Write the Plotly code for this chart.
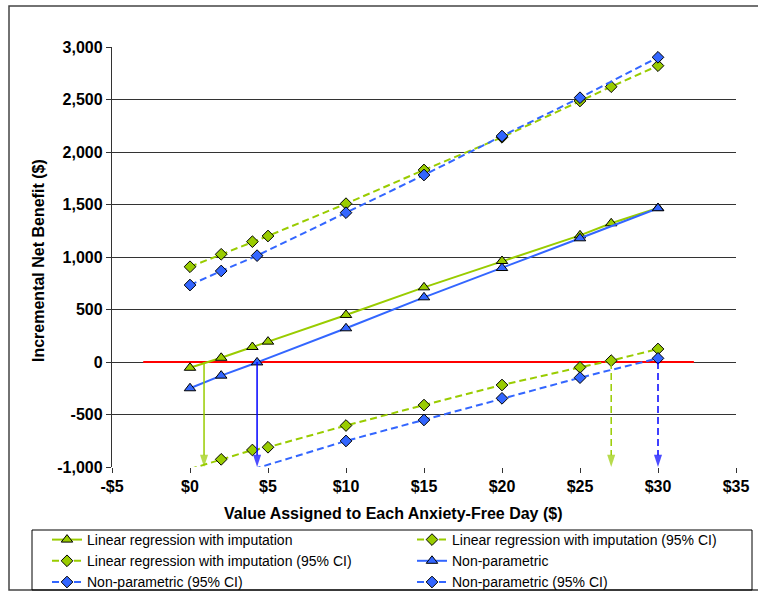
import plotly.graph_objects as go

# ---------------- data ----------------
lr_x = [0, 2, 4, 5, 10, 15, 20, 25, 27, 30]
lr_y = [-55, 40, 143, 194, 448, 711, 962, 1206, 1321, 1467]
lr_ci_hi = [907, 1026, 1146, 1200, 1508, 1829, 2140, 2486, 2622, 2822]
lr_ci_lo = [-1020, -927, -838, -812, -605, -410, -219, -51, 13, 124]

np_x = [0, 2, 4.3, 10, 15, 20, 25, 30]
np_y = [-250, -130, -4, 321, 616, 895, 1178, 1464]
np_ci_hi = [733, 867, 1013, 1422, 1781, 2152, 2517, 2902]
np_ci_lo = [-1180, -1100, -1010, -752, -552, -346, -149, 35]

zero_line_x = [-3, 32.3]
zero_line_y = [0, 0]

# break-even points (value where the line crosses zero)
be_lr = 0.9
be_np = 4.3
be_lr_ci = 27
be_np_ci = 30

x_ticks = [-5, 0, 5, 10, 15, 20, 25, 30, 35]
x_ticktext = ["-$5", "$0", "$5", "$10", "$15", "$20", "$25", "$30", "$35"]
y_ticks = [-1000, -500, 0, 500, 1000, 1500, 2000, 2500, 3000]
y_ticktext = ["-1,000", "-500", "0", "500", "1,000", "1,500", "2,000", "2,500", "3,000"]
x_range = [-5, 35]
y_range = [-1000, 3000]

names = [
    "Linear regression with imputation",
    "Linear regression with imputation (95% CI)",
    "Linear regression with imputation (95% CI)",
    "Non-parametric",
    "Non-parametric (95% CI)",
    "Non-parametric (95% CI)",
]

GREEN = "#99CC00"
BLUE = "#3366FF"
ARROW_BLUE = "#0000FF"
FONT = "Liberation Sans, Arial, sans-serif"

fig = go.Figure()

# red zero line
fig.add_trace(go.Scatter(x=zero_line_x, y=zero_line_y, mode="lines",
                         line=dict(color="#FF0000", width=2),
                         showlegend=False, hoverinfo="skip"))

tri = dict(symbol="triangle-up", size=10, line=dict(color="black", width=1))
dia = dict(symbol="diamond", size=9, line=dict(color="black", width=1))
DASH = "7px,4px"

fig.add_trace(go.Scatter(x=lr_x, y=lr_y, mode="lines+markers", name=names[0],
                         line=dict(color=GREEN, width=2),
                         marker=dict(color=GREEN, **tri)))
fig.add_trace(go.Scatter(x=lr_x, y=lr_ci_hi, mode="lines+markers", name=names[1],
                         line=dict(color=GREEN, width=2, dash=DASH),
                         marker=dict(color=GREEN, **dia)))
fig.add_trace(go.Scatter(x=lr_x, y=lr_ci_lo, mode="lines+markers", name=names[2],
                         line=dict(color=GREEN, width=2, dash=DASH),
                         marker=dict(color=GREEN, **dia)))
fig.add_trace(go.Scatter(x=np_x, y=np_y, mode="lines+markers", name=names[3],
                         line=dict(color=BLUE, width=2),
                         marker=dict(color=BLUE, **tri)))
fig.add_trace(go.Scatter(x=np_x, y=np_ci_hi, mode="lines+markers", name=names[4],
                         line=dict(color=BLUE, width=2, dash=DASH),
                         marker=dict(color=BLUE, **dia)))
fig.add_trace(go.Scatter(x=np_x, y=np_ci_lo, mode="lines+markers", name=names[5],
                         line=dict(color=BLUE, width=2, dash=DASH),
                         marker=dict(color=BLUE, **dia)))

# break-even arrows
for bx, col, dash in [(be_lr, GREEN, "solid"), (be_np, ARROW_BLUE, "solid"),
                      (be_lr_ci, GREEN, DASH), (be_np_ci, ARROW_BLUE, DASH)]:
    fig.add_trace(go.Scatter(
        x=[bx, bx], y=[0, y_range[0]], mode="lines+markers",
        line=dict(color=col, width=1.5, dash=dash),
        marker=dict(symbol="arrow", angleref="previous", size=[0, 13], color=col,
                    line=dict(width=0)),
        cliponaxis=False, showlegend=False, hoverinfo="skip"))

fig.update_layout(
    width=758, height=591,
    margin=dict(l=112, r=22, t=47, b=124, autoexpand=False),
    paper_bgcolor="white", plot_bgcolor="white",
    font=dict(family=FONT, size=15, color="black"),
    showlegend=True,
    legend=dict(orientation="h", x=(47 - 112) / 624, y=(467 - 524) / 420,
                xanchor="left", yanchor="top",
                entrywidth=320, entrywidthmode="pixels",
                bgcolor="rgba(0,0,0,0)", borderwidth=0,
                font=dict(family=FONT, size=14, color="black"),
                tracegroupgap=0, traceorder="normal"),
    xaxis=dict(range=x_range, tickvals=x_ticks, ticktext=x_ticktext,
               showgrid=False, zeroline=False,
               showline=False, ticks="outside", ticklen=5, tickcolor="#333",
               tickfont=dict(family=FONT, size=16, weight="bold", color="black")),
    yaxis=dict(range=y_range, tickvals=y_ticks, ticktext=y_ticktext,
               showgrid=True, gridcolor="#333", gridwidth=1.3, zeroline=False,
               showline=True, linecolor="#333", linewidth=1.3,
               ticks="outside", ticklen=5, tickcolor="#333",
               tickfont=dict(family=FONT, size=16, weight="bold", color="black")),
    annotations=[
        dict(text="Value Assigned to Each Anxiety-Free Day ($)", xref="paper", yref="paper",
             x=(393 - 112) / 624, y=(467 - 513) / 420, xanchor="center", yanchor="middle",
             showarrow=False, font=dict(family=FONT, size=16, weight="bold", color="black")),
        dict(text="Incremental Net Benefit ($)", xref="paper", yref="paper",
             x=(38 - 112) / 624, y=(467 - 261) / 420, xanchor="center", yanchor="middle",
             textangle=-90, showarrow=False,
             font=dict(family=FONT, size=16, weight="bold", color="black")),
    ],
    shapes=[
        # chart-area border
        dict(type="rect", xref="paper", yref="paper",
             x0=(9 - 112) / 624, x1=(770 - 112) / 624,
             y0=(467 - 6) / 420, y1=(467 - 590) / 420,
             line=dict(color="#444", width=1.5), fillcolor="rgba(0,0,0,0)", layer="below"),
        # legend frame
        dict(type="rect", xref="paper", yref="paper",
             x0=(32 - 112) / 624, x1=(752 - 112) / 624,
             y0=(467 - 530) / 420, y1=(467 - 590) / 420,
             line=dict(color="black", width=1), fillcolor="rgba(0,0,0,0)", layer="below"),
    ],
)

fig.write_html("out.html", config={"displayModeBar": False},
               post_script="document.body.style.margin='0';document.body.style.overflow='hidden';")
